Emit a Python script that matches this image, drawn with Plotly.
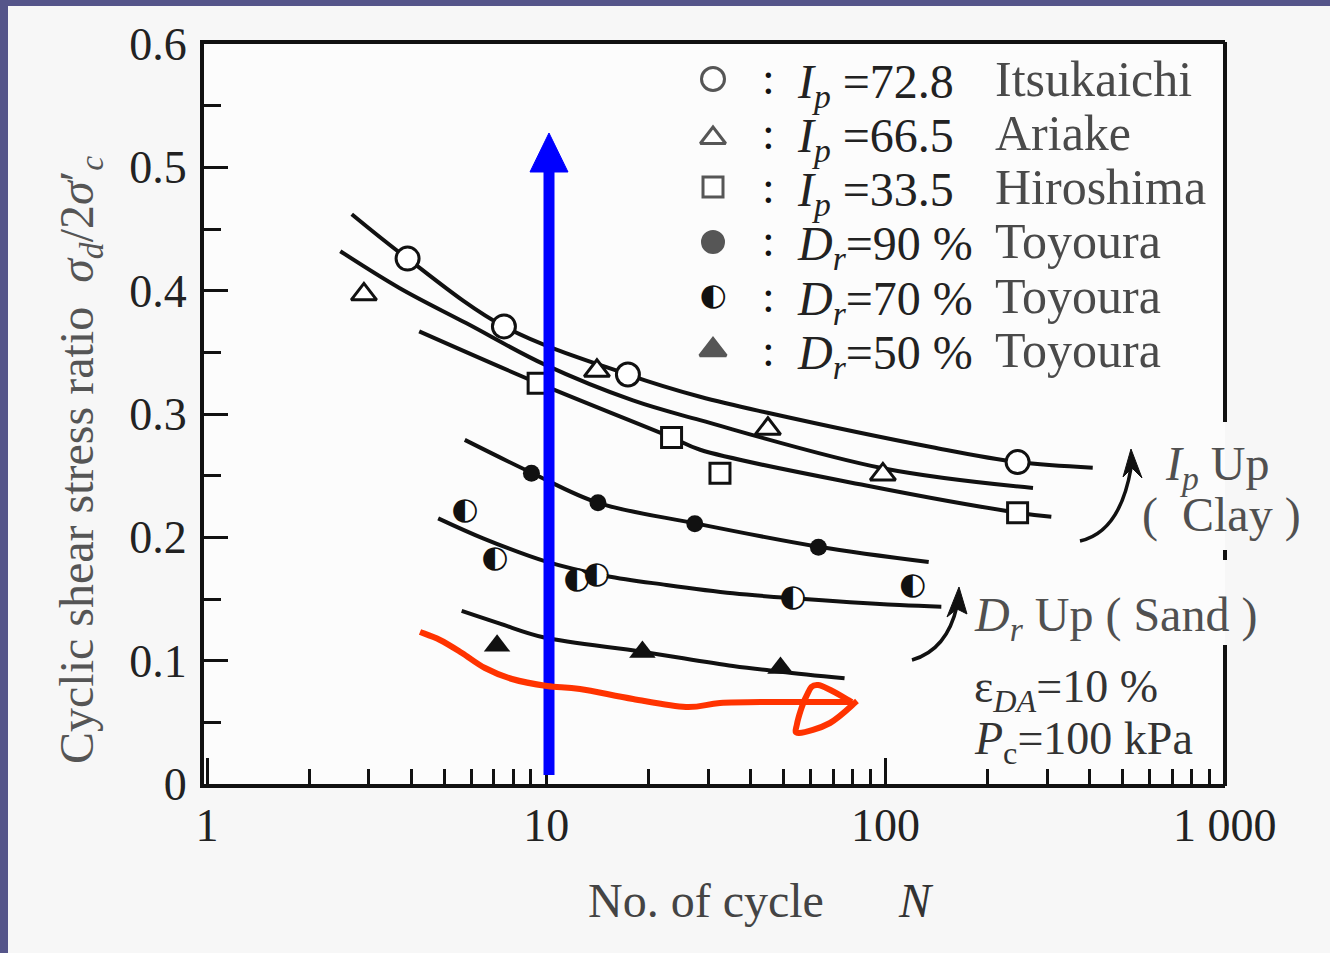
import plotly.graph_objects as go

# ---- measured points: cyclic shear stress ratio vs. number of cycles ----
# clays (open symbols)
itsukaichi_n = [3.9, 7.5, 17.4, 245]
itsukaichi_r = [0.426, 0.371, 0.332, 0.261]
ariake_n = [2.9, 14.1, 45.0, 98.2]
ariake_r = [0.397, 0.335, 0.288, 0.251]
hiroshima_n = [9.46, 23.4, 32.5, 245]
hiroshima_r = [0.325, 0.281, 0.252, 0.220]
# Toyoura sand (filled / half-filled symbols)
dr90_n = [9.04, 14.2, 27.4, 63.4]
dr90_r = [0.252, 0.228, 0.211, 0.192]
dr70_n = [5.75, 7.05, 12.3, 14.05, 53.3, 120]
dr70_r = [0.221, 0.182, 0.165, 0.169, 0.151, 0.160]
dr50_n = [7.16, 19.2, 49.0]
dr50_r = [0.112, 0.107, 0.094]

# ---- hand-fitted trend curves ----
fit_itsukaichi_n = [2.67, 3.9, 7.5, 17.4, 28.4, 44.9, 137.5, 245, 408]
fit_itsukaichi_r = [0.462, 0.426, 0.371, 0.332, 0.314, 0.301, 0.273, 0.261, 0.2565]
fit_ariake_n = [2.47, 3.70, 5.82, 9.90, 18.0, 28.4, 98.2, 272]
fit_ariake_r = [0.432, 0.402, 0.3735, 0.340, 0.311, 0.295, 0.256, 0.240]
fit_hiroshima_n = [4.22, 9.46, 23.4, 28.4, 87.7, 245, 308]
fit_hiroshima_r = [0.367, 0.325, 0.281, 0.271, 0.242, 0.220, 0.2167]
fit_dr90_n = [5.75, 9.04, 14.2, 27.4, 63.4, 134]
fit_dr90_r = [0.279, 0.2524, 0.228, 0.2114, 0.1924, 0.180]
fit_dr70_n = [4.80, 6.51, 10.0, 15.0, 22.6, 35.5, 53.3, 110, 146]
fit_dr70_r = [0.2154, 0.1992, 0.1803, 0.1687, 0.1614, 0.1546, 0.1506, 0.1451, 0.1438]
fit_dr50_n = [5.63, 7.30, 9.8, 19.2, 35.5, 49.0, 75.7]
fit_dr50_r = [0.1403, 0.130, 0.119, 0.1073, 0.0957, 0.0911, 0.0857]

# ---- axis ticks ----
x_tickvals = [1, 10, 100, 1000]
x_ticktext = ["1", "10", "100", "1 000"]
x_minor = [m * d for d in (1, 10, 100) for m in range(2, 10)]
y_tickvals = [0, 0.1, 0.2, 0.3, 0.4, 0.5, 0.6]
y_ticktext = ["0", "0.1", "0.2", "0.3", "0.4", "0.5", "0.6"]
y_minor = [0.05, 0.15, 0.25, 0.35, 0.45, 0.55]

# ---- legend rows ----
legend_expr = ["<i>I</i><sub><i>p</i></sub> =72.8", "<i>I</i><sub><i>p</i></sub> =66.5",
               "<i>I</i><sub><i>p</i></sub> =33.5", "<i>D</i><sub><i>r</i></sub>=90 %",
               "<i>D</i><sub><i>r</i></sub>=70 %", "<i>D</i><sub><i>r</i></sub>=50 %"]
legend_site = ["Itsukaichi", "Ariake", "Hiroshima", "Toyoura", "Toyoura", "Toyoura"]

W, H = 1330, 953
ML, MR, MT, MB = 204, 105, 44, 169


def fx(px):
    return (px - ML) / (W - ML - MR)


def fy(py):
    return (H - MB - py) / (H - MT - MB)


def poly(points, close=False):
    s = "M " + " L ".join(f"{fx(x):.5f},{fy(y):.5f}" for x, y in points)
    return s + (" Z" if close else "")


def smooth(points):
    """Catmull-Rom curve through pixel points, as a cubic Bezier path in paper units."""
    pts = [points[0]] + list(points) + [points[-1]]
    s = f"M {fx(pts[1][0]):.5f},{fy(pts[1][1]):.5f}"
    for i in range(1, len(pts) - 2):
        p0, p1, p2, p3 = pts[i - 1], pts[i], pts[i + 1], pts[i + 2]
        c1 = (p1[0] + (p2[0] - p0[0]) / 6, p1[1] + (p2[1] - p0[1]) / 6)
        c2 = (p2[0] - (p3[0] - p1[0]) / 6, p2[1] - (p3[1] - p1[1]) / 6)
        s += (f" C {fx(c1[0]):.5f},{fy(c1[1]):.5f} {fx(c2[0]):.5f},{fy(c2[1]):.5f}"
              f" {fx(p2[0]):.5f},{fy(p2[1]):.5f}")
    return s


SERIF = "Liberation Serif"
INK = "#111111"

fig = go.Figure()

# trend curves
for n, r in [(fit_itsukaichi_n, fit_itsukaichi_r), (fit_ariake_n, fit_ariake_r),
             (fit_hiroshima_n, fit_hiroshima_r), (fit_dr90_n, fit_dr90_r),
             (fit_dr70_n, fit_dr70_r), (fit_dr50_n, fit_dr50_r)]:
    fig.add_trace(go.Scatter(x=n, y=r, mode="lines", hoverinfo="skip", showlegend=False,
                             line=dict(color=INK, width=4, shape="spline", smoothing=1.0)))

open_line = dict(color=INK, width=3)
fig.add_trace(go.Scatter(x=itsukaichi_n, y=itsukaichi_r, mode="markers", name="Itsukaichi",
                         marker=dict(symbol="circle", size=23, color="white", line=open_line)))
fig.add_trace(go.Scatter(x=ariake_n, y=ariake_r, mode="markers", name="Ariake",
                         marker=dict(symbol="triangle-up", size=22, color="white", line=open_line)))
fig.add_trace(go.Scatter(x=hiroshima_n, y=hiroshima_r, mode="markers", name="Hiroshima",
                         marker=dict(symbol="square", size=20, color="white", line=open_line)))
fig.add_trace(go.Scatter(x=dr90_n, y=dr90_r, mode="markers", name="Dr=90%",
                         marker=dict(symbol="circle", size=17, color=INK)))
fig.add_trace(go.Scatter(x=dr70_n, y=dr70_r, mode="markers+text", name="Dr=70%",
                         text=["◐"] * len(dr70_n), textposition="middle center",
                         textfont=dict(family="DejaVu Sans", size=31, color=INK),
                         marker=dict(symbol="circle", size=21, color="white", line=dict(width=0))))
fig.add_trace(go.Scatter(x=dr50_n, y=dr50_r, mode="markers", name="Dr=50%",
                         marker=dict(symbol="triangle-up", size=23, color=INK)))

# legend symbols on an overlay in paper units
leg_x = fx(713)
leg_rows = [79, 133, 187, 241, 296, 350]
leg_sym_y = [fy(79), fy(138), fy(187), fy(242), fy(297), fy(350)]
fig.add_trace(go.Scatter(
    x=[leg_x] * 5, y=leg_sym_y[:4] + [leg_sym_y[5]],
    xaxis="x2", yaxis="y2", mode="markers", showlegend=False, hoverinfo="skip",
    marker=dict(symbol=["circle", "triangle-up", "square", "circle", "triangle-up"],
                size=[23, 22, 20, 21, 23],
                color=["white", "white", "white", INK, INK],
                line=dict(color=INK, width=3))))
fig.add_trace(go.Scatter(
    x=[leg_x], y=[leg_sym_y[4]], xaxis="x2", yaxis="y2", mode="markers+text",
    text=["◐"], textposition="middle center", showlegend=False, hoverinfo="skip",
    textfont=dict(family="DejaVu Sans", size=31, color=INK),
    marker=dict(symbol="circle", size=21, color="white", line=dict(width=0))))

annotations = []
for row_y, expr, site in zip(leg_rows, legend_expr, legend_site):
    annotations.append(dict(x=fx(768), y=fy(row_y), text=":", xanchor="center", yanchor="middle",
                            font=dict(family=SERIF, size=46, color=INK)))
    annotations.append(dict(x=fx(795), y=fy(row_y + 6), text=expr, xanchor="left", yanchor="middle",
                            font=dict(family=SERIF, size=48, color="#222222")))
    annotations.append(dict(x=fx(993), y=fy(row_y), text=site, xanchor="left", yanchor="middle",
                            font=dict(family=SERIF, size=50, color="#4a4a4a")))

grey_text = dict(family=SERIF, size=48, color="#505050")
annotations += [
    dict(x=fx(1163), y=fy(467), text="<i>I</i><sub><i>p</i></sub> Up", xanchor="left",
         yanchor="middle", font=grey_text),
    dict(x=fx(1140), y=fy(515), text="(  Clay )", xanchor="left", yanchor="middle", font=grey_text),
    dict(x=fx(972), y=fy(618), text="<i>D</i><sub><i>r</i></sub> Up ( Sand )", xanchor="left",
         yanchor="middle", font=grey_text),
    dict(x=fx(972), y=fy(690), text="ε<sub><i>DA</i></sub>=10 %", xanchor="left", yanchor="middle",
         font=dict(family=SERIF, size=46, color="#333333")),
    dict(x=fx(972), y=fy(742), text="<i>P</i><sub>c</sub>=100 kPa", xanchor="left", yanchor="middle",
         font=dict(family=SERIF, size=46, color="#333333")),
    # axis titles
    dict(x=fx(80), y=fy(460), textangle=-90, xanchor="center", yanchor="middle",
         text="Cyclic shear stress ratio  <i>σ</i><sub><i>d</i></sub>/2<i>σ</i>′<sub><i>c</i></sub>",
         font=dict(family=SERIF, size=48, color="#555555")),
    dict(x=fx(706), y=fy(900), text="No. of cycle", xanchor="center", yanchor="middle",
         font=dict(family=SERIF, size=48, color="#444444")),
    dict(x=fx(916), y=fy(900), text="<i>N</i>", xanchor="center", yanchor="middle",
         font=dict(family=SERIF, size=48, color="#333333")),
]
for a in annotations:
    a.update(xref="paper", yref="paper", showarrow=False)

shapes = [
    # slide frame strips
    dict(type="rect", x0=fx(0), x1=fx(W), y0=fy(0), y1=fy(6), fillcolor="#55558a", line=dict(width=0)),
    dict(type="rect", x0=fx(0), x1=fx(8), y0=fy(0), y1=fy(H), fillcolor="#55558a", line=dict(width=0)),
    # right frame, interrupted by the labels
    dict(type="line", x0=1, x1=1, y0=fy(42), y1=fy(422), line=dict(color=INK, width=4)),
    dict(type="line", x0=1, x1=1, y0=fy(550), y1=fy(560), line=dict(color=INK, width=4)),
    dict(type="line", x0=1, x1=1, y0=fy(645), y1=fy(786), line=dict(color=INK, width=4)),
    # curved trend arrows
    dict(type="path", path=f"M {fx(1080)},{fy(541)} Q {fx(1120)},{fy(532)} {fx(1131)},{fy(468)}",
         line=dict(color=INK, width=3.5)),
    dict(type="path", path=poly([(1131, 449), (1123, 477), (1132, 468), (1142, 478)], True),
         fillcolor=INK, line=dict(color=INK, width=1)),
    dict(type="path", path=f"M {fx(912)},{fy(660)} Q {fx(947)},{fy(650)} {fx(957)},{fy(606)}",
         line=dict(color=INK, width=3.5)),
    dict(type="path", path=poly([(959, 587), (947, 617), (957, 609), (967, 614)], True),
         fillcolor=INK, line=dict(color=INK, width=1)),
    # blue arrow
    dict(type="line", x0=fx(549), x1=fx(549), y0=fy(775), y1=fy(168),
         line=dict(color="#0000ff", width=11)),
    dict(type="path", path=poly([(549, 133), (530, 172), (568, 172)], True),
         fillcolor="#0000ff", line=dict(color="#0000ff", width=1)),
    # red freehand arrow
    dict(type="path", path=smooth([(420, 632), (440, 640), (462, 653), (485, 668), (512, 679),
                                   (547, 686), (580, 689), (633, 699), (686, 707), (720, 703),
                                   (767, 702), (852, 702)]),
         line=dict(color="#ff3300", width=6)),
    dict(type="path", path=smooth([(852, 702), (818, 685), (806, 697), (797, 724), (799, 733),
                                   (830, 723), (857, 701)]),
         line=dict(color="#ff3300", width=6)),
]
for s in shapes:
    s.update(xref="paper", yref="paper", layer="above")

tick_font = dict(family=SERIF, size=46, color="#222222")
fig.update_layout(
    width=W, height=H,
    margin=dict(l=ML, r=MR, t=MT, b=MB, autoexpand=False),
    paper_bgcolor="#f7f7f7", plot_bgcolor="#fcfcfc",
    showlegend=False,
    xaxis=dict(type="log", range=[-0.009, 3.0005], showgrid=False, zeroline=False,
               showline=True, linecolor=INK, linewidth=4, mirror=True,
               ticks="inside", ticklen=26, tickwidth=3, tickcolor=INK,
               tickmode="array", tickvals=x_tickvals, ticktext=x_ticktext,
               tickfont=tick_font, ticklabelstandoff=-2,
               minor=dict(tickmode="array", tickvals=x_minor, ticks="inside",
                          ticklen=15, tickwidth=3, tickcolor=INK, showgrid=False)),
    yaxis=dict(range=[0, 0.6], showgrid=False, zeroline=False,
               showline=True, linecolor=INK, linewidth=4, mirror=False,
               ticks="inside", ticklen=24, tickwidth=3, tickcolor=INK,
               tickmode="array", tickvals=y_tickvals, ticktext=y_ticktext,
               tickfont=tick_font, ticklabelstandoff=4,
               minor=dict(tickmode="array", tickvals=y_minor, ticks="inside",
                          ticklen=17, tickwidth=3, tickcolor=INK, showgrid=False)),
    xaxis2=dict(overlaying="x", range=[0, 1], visible=False),
    yaxis2=dict(overlaying="y", range=[0, 1], visible=False),
    annotations=annotations,
    shapes=shapes,
)

fig.write_html("out.html")
